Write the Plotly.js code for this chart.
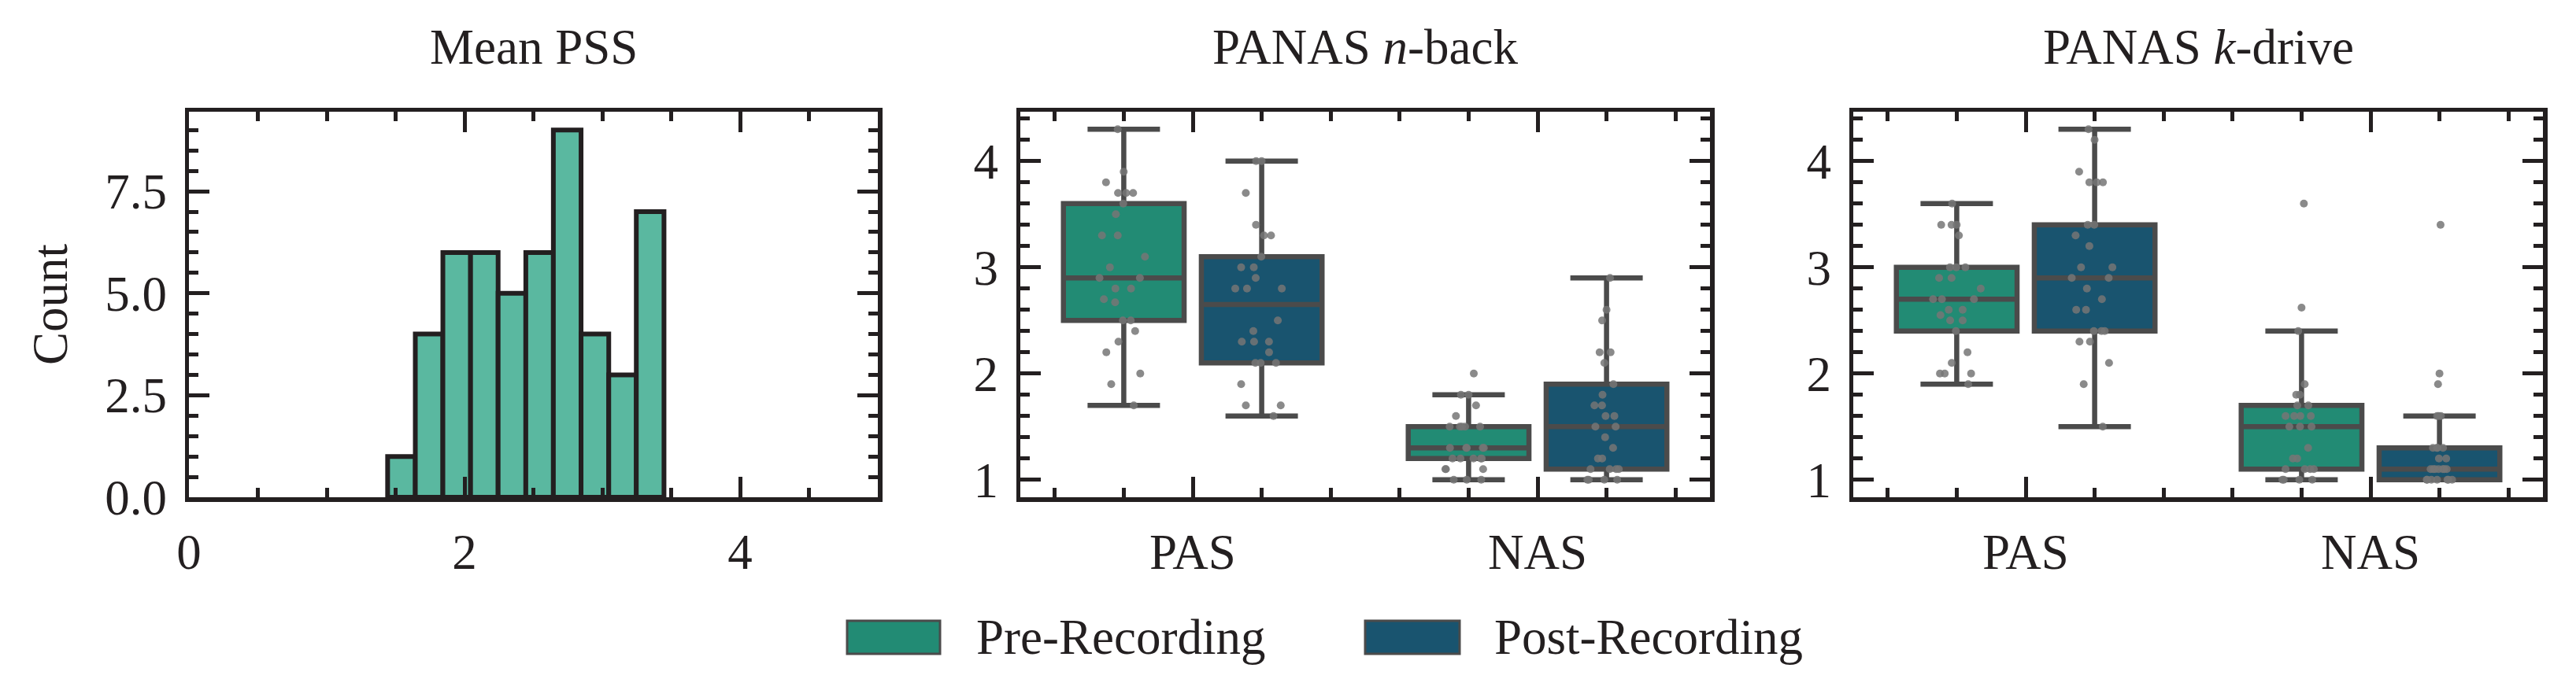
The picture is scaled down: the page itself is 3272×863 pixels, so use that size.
<!DOCTYPE html>
<html><head><meta charset="utf-8">
<script src="https://cdn.plot.ly/plotly-3.0.1.min.js"></script>
<style>html,body{margin:0;padding:0;background:#fff;}#chart{width:3272px;height:863px;}</style>
</head><body><div id="chart"></div>
<script>
// ---------------- data ----------------
const pssBinEdges = [1.442, 1.643, 1.843, 2.044, 2.244, 2.445, 2.645, 2.846, 3.047, 3.247, 3.448];
const pssCounts   = [1, 4, 6, 6, 5, 6, 9, 4, 3, 7];
const pssTickVals = [0, 2, 4];

const categories = ['PAS', 'NAS'];
const groupNames = ['Pre-Recording', 'Post-Recording'];
const panelTitles = ['Mean PSS', 'PANAS <i>n</i>-back', 'PANAS <i>k</i>-drive'];

const nbackPrePAS  = [4.3, 3.9, 3.8, 3.7, 3.7, 3.7, 3.6, 3.5, 3.3, 3.3, 3.1, 3.0, 2.9, 2.9, 2.8, 2.8, 2.7, 2.67, 2.5, 2.5, 2.4, 2.3, 2.2, 2.0, 1.9, 1.7];
const nbackPostPAS = [4.0, 4.0, 3.7, 3.4, 3.3, 3.3, 3.1, 3.0, 3.0, 2.9, 2.8, 2.8, 2.8, 2.5, 2.4, 2.3, 2.3, 2.3, 2.2, 2.1, 2.1, 2.1, 1.9, 1.7, 1.7, 1.6];
const nbackPreNAS  = [2.0, 1.8, 1.8, 1.7, 1.6, 1.5, 1.5, 1.5, 1.5, 1.5, 1.3, 1.3, 1.3, 1.3, 1.3, 1.2, 1.2, 1.2, 1.2, 1.2, 1.1, 1.1, 1.1, 1.0, 1.0, 1.0];
const nbackPostNAS = [2.9, 2.6, 2.5, 2.2, 2.2, 2.1, 1.9, 1.8, 1.7, 1.7, 1.6, 1.6, 1.5, 1.5, 1.4, 1.3, 1.2, 1.2, 1.1, 1.1, 1.1, 1.1, 1.0, 1.0, 1.0, 1.0];

const kdrivePrePAS  = [3.6, 3.4, 3.4, 3.4, 3.3, 3.0, 3.0, 3.0, 2.9, 2.9, 2.8, 2.7, 2.7, 2.7, 2.6, 2.6, 2.55, 2.5, 2.5, 2.4, 2.2, 2.1, 2.0, 2.0, 2.0, 1.9];
const kdrivePostPAS = [4.3, 4.2, 3.9, 3.8, 3.8, 3.8, 3.4, 3.4, 3.3, 3.2, 3.0, 3.0, 2.9, 2.9, 2.8, 2.7, 2.6, 2.6, 2.4, 2.4, 2.4, 2.3, 2.3, 2.1, 1.9, 1.5];
const kdrivePreNAS  = [3.6, 2.62, 2.4, 1.9, 1.8, 1.8, 1.7, 1.7, 1.6, 1.6, 1.6, 1.6, 1.5, 1.5, 1.5, 1.3, 1.2, 1.2, 1.1, 1.1, 1.1, 1.1, 1.0, 1.0, 1.0, 1.0];
const kdrivePostNAS = [3.4, 2.0, 1.9, 1.6, 1.6, 1.6, 1.3, 1.3, 1.3, 1.3, 1.2, 1.2, 1.1, 1.1, 1.1, 1.1, 1.1, 1.1, 1.1, 1.0, 1.0, 1.0, 1.0, 1.0, 1.0, 1.0];

// ---------------- styling ----------------
const W = 3272, H = 863;
const FONT = 'Liberation Serif, Times New Roman, serif';
const INK = '#231f20';
const EDGE = '#4b4b4b';
const preColor = '#228b74';
const postColor = '#19546f';
const histColor = '#5ab8a0';
const FS = 63;

const px = v => v / W;
const py = v => 1 - v / H;

// panel frames in pixels (inner edges)
const panels = [
  {l: 240, r: 1115},
  {l: 1296, r: 2172},
  {l: 2354, r: 3230}
];
const frameTop = 142, frameBottom = 632;

// ---------------- traces ----------------
const traces = [];
const mids = pssCounts.map((c, i) => (pssBinEdges[i] + pssBinEdges[i + 1]) / 2);
const widths = pssCounts.map((c, i) => pssBinEdges[i + 1] - pssBinEdges[i]);
traces.push({
  type: 'bar', x: mids, y: pssCounts, width: widths,
  marker: {color: histColor, line: {color: INK, width: 6}},
  xaxis: 'x', yaxis: 'y', showlegend: false, hoverinfo: 'skip'
});

function boxTrace(pasVals, nasVals, name, color, ax, ay) {
  const y = pasVals.concat(nasVals);
  const x = pasVals.map(() => 0).concat(nasVals.map(() => 1));
  return {
    type: 'box', name: name, x: x, y: y, xaxis: ax, yaxis: ay,
    offsetgroup: name, legendgroup: name,
    fillcolor: color,
    line: {color: EDGE, width: 6.5},
    whiskerwidth: 0.6,
    boxpoints: 'all', jitter: 0.45, pointpos: 0,
    marker: {color: 'rgba(118,118,118,0.85)', size: 10, line: {width: 0}},
    showlegend: false, hoverinfo: 'skip'
  };
}
traces.push(boxTrace(nbackPrePAS, nbackPreNAS, groupNames[0], preColor, 'x2', 'y2'));
traces.push(boxTrace(nbackPostPAS, nbackPostNAS, groupNames[1], postColor, 'x2', 'y2'));
traces.push(boxTrace(kdrivePrePAS, kdrivePreNAS, groupNames[0], preColor, 'x3', 'y3'));
traces.push(boxTrace(kdrivePostPAS, kdrivePostNAS, groupNames[1], postColor, 'x3', 'y3'));

// ---------------- axes ----------------
const minorBase = {ticks: 'inside', ticklen: 12, tickwidth: 5, tickcolor: INK, showgrid: false};
function axis(extra) {
  return Object.assign({
    showline: true, linecolor: INK, linewidth: 5.5, mirror: 'ticks',
    ticks: 'inside', ticklen: 26, tickwidth: 5, tickcolor: INK,
    showgrid: false, zeroline: false, fixedrange: true,
    tickfont: {family: FONT, size: FS, color: INK}
  }, extra);
}
const yDom = [py(frameBottom), py(frameTop)];
const layout = {
  width: W, height: H,
  margin: {l: 0, r: 0, t: 0, b: 0},
  paper_bgcolor: '#ffffff', plot_bgcolor: '#ffffff',
  showlegend: false,
  boxmode: 'group', boxgap: 0.2, boxgroupgap: 0.125,
  bargap: 0,
  xaxis: axis({domain: [px(panels[0].l), px(panels[0].r)], range: [0, 5], tickvals: pssTickVals, minor: Object.assign({dtick: 0.5, tick0: 0}, minorBase), anchor: 'y', ticklabelstandoff: 10}),
  yaxis: axis({domain: yDom, range: [0, 9.45], dtick: 2.5, tick0: 0, tickformat: '.1f', minor: Object.assign({dtick: 0.5, tick0: 0}, minorBase), anchor: 'x', ticklabelstandoff: 10}),
  xaxis2: axis({domain: [px(panels[1].l), px(panels[1].r)], range: [-0.5, 1.5], tickvals: [0, 1], ticktext: categories, minor: Object.assign({dtick: 0.2, tick0: 0}, minorBase), anchor: 'y2', ticklabelstandoff: 10}),
  yaxis2: axis({domain: yDom, range: [0.835, 4.465], dtick: 1, tick0: 0, minor: Object.assign({dtick: 0.2, tick0: 0}, minorBase), anchor: 'x2', ticklabelstandoff: 10}),
  xaxis3: axis({domain: [px(panels[2].l), px(panels[2].r)], range: [-0.5, 1.5], tickvals: [0, 1], ticktext: categories, minor: Object.assign({dtick: 0.2, tick0: 0}, minorBase), anchor: 'y3', ticklabelstandoff: 10}),
  yaxis3: axis({domain: yDom, range: [0.835, 4.465], dtick: 1, tick0: 0, minor: Object.assign({dtick: 0.2, tick0: 0}, minorBase), anchor: 'x3', ticklabelstandoff: 10}),
  annotations: [],
  shapes: []
};

// subplot titles
panels.forEach((p, i) => {
  layout.annotations.push({
    text: panelTitles[i], xref: 'paper', yref: 'paper',
    x: px((p.l + p.r) / 2), y: py(60), xanchor: 'center', yanchor: 'middle',
    showarrow: false, font: {family: FONT, size: FS, color: INK}
  });
});
// y title
layout.annotations.push({
  text: 'Count', xref: 'paper', yref: 'paper', x: px(64), y: py(387),
  xanchor: 'center', yanchor: 'middle', textangle: -90, showarrow: false,
  font: {family: FONT, size: FS, color: INK}
});

// legend (drawn manually for large patches)
const legendItems = [
  {name: groupNames[0], color: preColor, x0: 1076, x1: 1194, tx: 1238},
  {name: groupNames[1], color: postColor, x0: 1734, x1: 1854, tx: 1896}
];
legendItems.forEach(it => {
  layout.shapes.push({type: 'rect', xref: 'paper', yref: 'paper',
    x0: px(it.x0), x1: px(it.x1), y0: py(831), y1: py(789),
    fillcolor: it.color, line: {color: EDGE, width: 3}});
  layout.annotations.push({text: it.name, xref: 'paper', yref: 'paper',
    x: px(it.tx), y: py(810), xanchor: 'left', yanchor: 'middle', showarrow: false,
    font: {family: FONT, size: FS, color: INK}});
});

Plotly.newPlot('chart', traces, layout, {staticPlot: true, displayModeBar: false});
</script>
</body></html>
